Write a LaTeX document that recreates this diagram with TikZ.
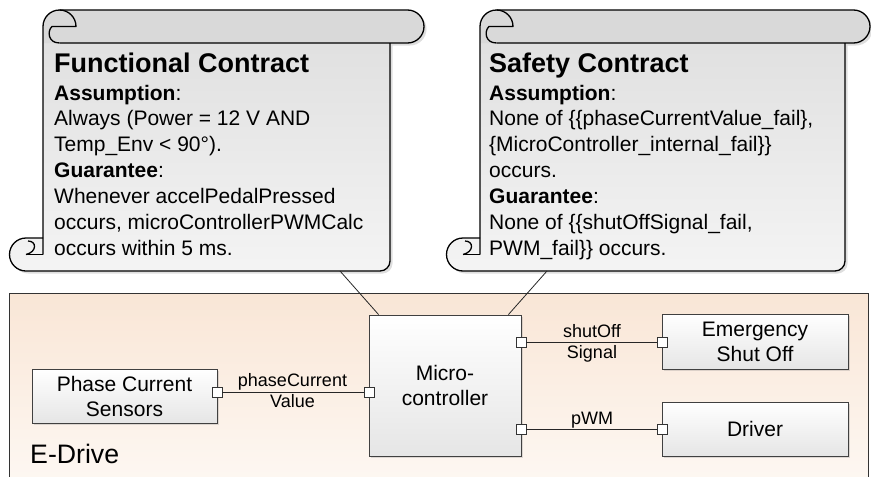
\documentclass[tikz,border=0pt]{standalone}
\usepackage{fontspec}
\setmainfont{Liberation Sans}
\usetikzlibrary{shadows,calc}
\definecolor{peachtop}{RGB}{249,230,214}
\definecolor{peachbot}{RGB}{254,251,248}
\newcommand{\contractscroll}[4]{%
  % #1 = left x, #2 = body right x, #3 = band end x, #4 = bottom y
  \begin{scope}[shift={(2.5,2.5)}]
    \fill[black!13] (#1,26.5) arc[start angle=180,end angle=270,radius=16.5] -- ({#3-16.5},10) arc[start angle=-90,end angle=90,radius=16.5] -- (#2,43) -- (#2,{#4-10}) arc[start angle=0,end angle=90,radius=10] -- ({#1-17},#4) arc[start angle=90,end angle=270,radius=16.5] -- (#1,{#4-33}) -- cycle;
  \end{scope}
  \path[scrollbody] (#1,26.5) arc[start angle=180,end angle=270,radius=16.5] -- ({#3-16.5},10) arc[start angle=-90,end angle=90,radius=16.5] -- (#2,43) -- (#2,{#4-10}) arc[start angle=0,end angle=90,radius=10] -- ({#1-17},#4) arc[start angle=90,end angle=270,radius=16.5] -- (#1,{#4-33}) -- cycle;
  \fill[scrollband] (#1,43) -- (#1,26.5) arc[start angle=180,end angle=270,radius=16.5] -- ({#3-16.5},10) arc[start angle=-90,end angle=90,radius=16.5] -- cycle;
  \draw[scrollline] (#1,{#4-16.5}) -- (#1,26.5) arc[start angle=180,end angle=270,radius=16.5] -- ({#3-16.5},10) arc[start angle=-90,end angle=90,radius=16.5] -- ({#1+16.5},43);
  \draw[scrollline] (#2,43) -- (#2,{#4-10}) arc[start angle=0,end angle=90,radius=10] -- ({#1-17},#4) arc[start angle=90,end angle=270,radius=16.5] -- (#1,{#4-33});
  \draw[scrollline] ({#1+16.5},10) arc[start angle=270,end angle=360,radius=16.5] -- ({#1+9},26.5) .. controls ({#1+4},31) and ({#1+5},43) .. ({#1+16.5},43);
  \draw[scrollline] ({#1-17},{#4-16.5}) -- (#1,{#4-16.5});
  \draw[scrollline] ({#1-15},{#4-30}) .. controls ({#1-6},{#4-30}) and ({#1-6},{#4-19}) .. ({#1-17},{#4-16.5});
}
\begin{document}
\begin{tikzpicture}[x=1pt,y=-1pt,
  scrollbody/.style={top color=gray!26, bottom color=gray!9},
  scrollband/.style={fill=gray!30},
  scrollline/.style={draw=black, line width=1.3pt, line join=round},
  titletext/.style={anchor=base west, inner sep=0, font=\bfseries\fontsize{27}{30}\selectfont},
  bodytext/.style={anchor=base west, inner sep=0, font=\fontsize{21}{25}\selectfont},
  container/.style={draw=black!80, line width=1pt, top color=peachtop, bottom color=peachbot, minimum width=859, minimum height=227, inner sep=0},
  block/.style={draw=black!75, line width=0.8pt, top color=white, bottom color=gray!20, align=center, inner sep=0, font=\fontsize{21}{25}\selectfont, drop shadow={shadow xshift=1.5pt, shadow yshift=-1.5pt, opacity=0.25}},
  port/.style={draw=black!80, fill=white, minimum size=10, inner sep=0, line width=0.8pt},
  conn/.style={draw=black!85, line width=0.8pt},
  lbl/.style={anchor=base, inner sep=0, font=\fontsize{18}{21}\selectfont}
]
\useasboundingbox (0,0) rectangle (871,477);
\clip (0,0) rectangle (871,477);

% container
\node[container] (edrive) at (438.5,406.5) {};
\node[anchor=base west, inner sep=0, font=\fontsize{26.7}{30}\selectfont] (edlabel) at (30,463) {E-Drive};

% scrolls
\contractscroll{43}{390}{424}{271}
\contractscroll{480}{845}{870}{271}

\node[titletext] (ftitle) at (54,72) {Functional Contract};
\foreach \txt [count=\i from 0] in {{\textbf{Assumption}:}, {Always (Power = 12 V AND}, {Temp\_Env < 90°).}, {\textbf{Guarantee}:}, {Whenever accelPedalPressed}, {occurs, microControllerPWMCalc}, {occurs within 5 ms.}}
  \node[bodytext] (fline\i) at (54,{100+25.85*\i}) {\txt};

\node[titletext] (stitle) at (489,72) {Safety Contract};
\foreach \txt [count=\i from 0] in {{\textbf{Assumption}:}, {None of \{\{phaseCurrentValue\_fail\},}, {\{MicroController\_internal\_fail\}\}}, {occurs.}, {\textbf{Guarantee}:}, {None of \{\{shutOffSignal\_fail,}, {PWM\_fail\}\} occurs.}}
  \node[bodytext] (sline\i) at (489,{100+25.85*\i}) {\txt};

% blocks
\node[block, minimum width=185, minimum height=54] (sensors) at (124.5,396) {Phase Current\\Sensors};
\node[block, minimum width=152, minimum height=141] (micro) at (445,385.5) {Micro-\\controller};
\node[block, minimum width=186, minimum height=55] (emerg) at (755,341.5) {Emergency\\Shut Off};
\node[block, minimum width=186, minimum height=54] (driver) at (755,429) {Driver};

% scroll connectors
\coordinate (fcA) at (340,271);
\coordinate (scA) at (547,271);
\draw[conn] (fcA) -- ($(micro.north west)+(10,0)$);
\draw[conn] (scA) -- ($(micro.north east)+(-13,0)$);

% ports
\node[port] (p1) at (217,392) {};
\node[port] (p2) at (369,392) {};
\node[port] (p3) at (521,342) {};
\node[port] (p4) at (662,342) {};
\node[port] (p5) at (521,429) {};
\node[port] (p6) at (662,429) {};
\draw[conn] (p1) -- (p2);
\draw[conn] (p3) -- (p4);
\draw[conn] (p5) -- (p6);

\node[lbl] (l1a) at (292.5,386) {phaseCurrent};
\node[lbl] (l1b) at (292.5,407) {Value};
\node[lbl] (l2a) at (592,337) {shutOff};
\node[lbl] (l2b) at (592,358) {Signal};
\node[lbl] (l3) at (592,424) {pWM};
\end{tikzpicture}
\end{document}
